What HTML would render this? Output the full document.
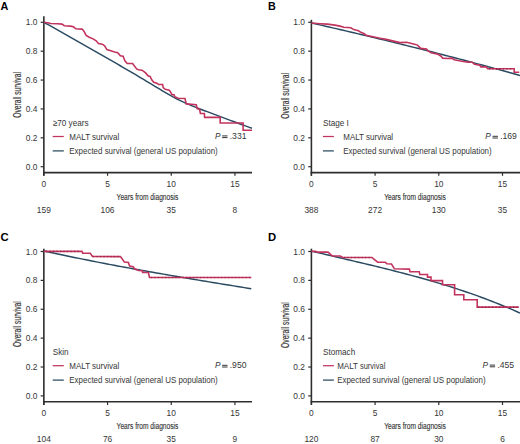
<!DOCTYPE html>
<html><head><meta charset="utf-8"><style>
html,body{margin:0;padding:0;background:#fff;width:520px;height:444px;overflow:hidden}
svg{display:block}
text{font-family:"Liberation Sans", sans-serif}
</style></head><body>
<svg width="520" height="444" viewBox="0 0 520 444">
<text x="0.5" y="10" font-size="10.8" font-weight="bold" fill="#000">A</text>
<line x1="43.85" y1="16.3" x2="43.85" y2="175.8" stroke="#2e2e2e" stroke-width="1.6"/>
<line x1="43.05" y1="172.6" x2="252" y2="172.6" stroke="#2e2e2e" stroke-width="1.6"/>
<line x1="40.65" y1="166.7" x2="43.85" y2="166.7" stroke="#2e2e2e" stroke-width="1.2"/>
<text transform="translate(37.4,169.7) scale(1,1.1)" font-size="8.4" fill="#363636" text-anchor="end">0.0</text>
<line x1="40.65" y1="137.82" x2="43.85" y2="137.82" stroke="#2e2e2e" stroke-width="1.2"/>
<text transform="translate(37.4,140.82) scale(1,1.1)" font-size="8.4" fill="#363636" text-anchor="end">0.2</text>
<line x1="40.65" y1="108.94" x2="43.85" y2="108.94" stroke="#2e2e2e" stroke-width="1.2"/>
<text transform="translate(37.4,111.94) scale(1,1.1)" font-size="8.4" fill="#363636" text-anchor="end">0.4</text>
<line x1="40.65" y1="80.06" x2="43.85" y2="80.06" stroke="#2e2e2e" stroke-width="1.2"/>
<text transform="translate(37.4,83.06) scale(1,1.1)" font-size="8.4" fill="#363636" text-anchor="end">0.6</text>
<line x1="40.65" y1="51.18" x2="43.85" y2="51.18" stroke="#2e2e2e" stroke-width="1.2"/>
<text transform="translate(37.4,54.18) scale(1,1.1)" font-size="8.4" fill="#363636" text-anchor="end">0.8</text>
<line x1="40.65" y1="22.3" x2="43.85" y2="22.3" stroke="#2e2e2e" stroke-width="1.2"/>
<text transform="translate(37.4,25.3) scale(1,1.1)" font-size="8.4" fill="#363636" text-anchor="end">1.0</text>
<line x1="43.85" y1="172.6" x2="43.85" y2="175.8" stroke="#2e2e2e" stroke-width="1.2"/>
<text transform="translate(43.85,186.8) scale(1,1.1)" font-size="8.4" fill="#363636" text-anchor="middle">0</text>
<text transform="translate(43.85,212.7) scale(1,1.1)" font-size="8.4" fill="#363636" text-anchor="middle">159</text>
<line x1="107.55" y1="172.6" x2="107.55" y2="175.8" stroke="#2e2e2e" stroke-width="1.2"/>
<text transform="translate(107.55,186.8) scale(1,1.1)" font-size="8.4" fill="#363636" text-anchor="middle">5</text>
<text transform="translate(107.55,212.7) scale(1,1.1)" font-size="8.4" fill="#363636" text-anchor="middle">106</text>
<line x1="171.25" y1="172.6" x2="171.25" y2="175.8" stroke="#2e2e2e" stroke-width="1.2"/>
<text transform="translate(171.25,186.8) scale(1,1.1)" font-size="8.4" fill="#363636" text-anchor="middle">10</text>
<text transform="translate(171.25,212.7) scale(1,1.1)" font-size="8.4" fill="#363636" text-anchor="middle">35</text>
<line x1="234.95" y1="172.6" x2="234.95" y2="175.8" stroke="#2e2e2e" stroke-width="1.2"/>
<text transform="translate(234.95,186.8) scale(1,1.1)" font-size="8.4" fill="#363636" text-anchor="middle">15</text>
<text transform="translate(234.95,212.7) scale(1,1.1)" font-size="8.4" fill="#363636" text-anchor="middle">8</text>
<text transform="translate(116.6,199.6) scale(0.708,1)" font-size="9.4" fill="#363636" stroke="#363636" stroke-width="0.15">Years from diagnosis</text>
<text transform="translate(21.1,94.9) rotate(-90) scale(0.655,1)" font-size="10.2" fill="#363636" stroke="#363636" stroke-width="0.2" text-anchor="middle">Overall survival</text>
<text transform="translate(52.7,125.5) scale(1,1.12)" font-size="8.2" fill="#363636">&#8805;70 years</text>
<line x1="52.7" y1="136.5" x2="63.8" y2="136.5" stroke="#c2335e" stroke-width="1.25"/>
<line x1="52.7" y1="150.9" x2="63.8" y2="150.9" stroke="#2a4a62" stroke-width="1.25"/>
<text transform="translate(69.3,139.6) scale(1,1.12)" font-size="8" fill="#363636">MALT survival</text>
<text transform="translate(69.3,153.9) scale(1,1.12)" font-size="7.95" fill="#363636">Expected survival (general US population)</text>
<text x="268.05" y="10" font-size="10.8" font-weight="bold" fill="#000">B</text>
<line x1="311.4" y1="19.8" x2="311.4" y2="175.8" stroke="#2e2e2e" stroke-width="1.6"/>
<line x1="310.6" y1="172.6" x2="520.55" y2="172.6" stroke="#2e2e2e" stroke-width="1.6"/>
<line x1="308.2" y1="166.7" x2="311.4" y2="166.7" stroke="#2e2e2e" stroke-width="1.2"/>
<text transform="translate(304.95,169.7) scale(1,1.1)" font-size="8.4" fill="#363636" text-anchor="end">0.0</text>
<line x1="308.2" y1="137.82" x2="311.4" y2="137.82" stroke="#2e2e2e" stroke-width="1.2"/>
<text transform="translate(304.95,140.82) scale(1,1.1)" font-size="8.4" fill="#363636" text-anchor="end">0.2</text>
<line x1="308.2" y1="108.94" x2="311.4" y2="108.94" stroke="#2e2e2e" stroke-width="1.2"/>
<text transform="translate(304.95,111.94) scale(1,1.1)" font-size="8.4" fill="#363636" text-anchor="end">0.4</text>
<line x1="308.2" y1="80.06" x2="311.4" y2="80.06" stroke="#2e2e2e" stroke-width="1.2"/>
<text transform="translate(304.95,83.06) scale(1,1.1)" font-size="8.4" fill="#363636" text-anchor="end">0.6</text>
<line x1="308.2" y1="51.18" x2="311.4" y2="51.18" stroke="#2e2e2e" stroke-width="1.2"/>
<text transform="translate(304.95,54.18) scale(1,1.1)" font-size="8.4" fill="#363636" text-anchor="end">0.8</text>
<line x1="308.2" y1="22.3" x2="311.4" y2="22.3" stroke="#2e2e2e" stroke-width="1.2"/>
<text transform="translate(304.95,25.3) scale(1,1.1)" font-size="8.4" fill="#363636" text-anchor="end">1.0</text>
<line x1="311.4" y1="172.6" x2="311.4" y2="175.8" stroke="#2e2e2e" stroke-width="1.2"/>
<text transform="translate(311.4,186.8) scale(1,1.1)" font-size="8.4" fill="#363636" text-anchor="middle">0</text>
<text transform="translate(311.4,212.7) scale(1,1.1)" font-size="8.4" fill="#363636" text-anchor="middle">388</text>
<line x1="375.1" y1="172.6" x2="375.1" y2="175.8" stroke="#2e2e2e" stroke-width="1.2"/>
<text transform="translate(375.1,186.8) scale(1,1.1)" font-size="8.4" fill="#363636" text-anchor="middle">5</text>
<text transform="translate(375.1,212.7) scale(1,1.1)" font-size="8.4" fill="#363636" text-anchor="middle">272</text>
<line x1="438.8" y1="172.6" x2="438.8" y2="175.8" stroke="#2e2e2e" stroke-width="1.2"/>
<text transform="translate(438.8,186.8) scale(1,1.1)" font-size="8.4" fill="#363636" text-anchor="middle">10</text>
<text transform="translate(438.8,212.7) scale(1,1.1)" font-size="8.4" fill="#363636" text-anchor="middle">130</text>
<line x1="502.5" y1="172.6" x2="502.5" y2="175.8" stroke="#2e2e2e" stroke-width="1.2"/>
<text transform="translate(502.5,186.8) scale(1,1.1)" font-size="8.4" fill="#363636" text-anchor="middle">15</text>
<text transform="translate(502.5,212.7) scale(1,1.1)" font-size="8.4" fill="#363636" text-anchor="middle">35</text>
<text transform="translate(384.15,199.6) scale(0.708,1)" font-size="9.4" fill="#363636" stroke="#363636" stroke-width="0.15">Years from diagnosis</text>
<text transform="translate(288.65,95.9) rotate(-90) scale(0.655,1)" font-size="10.2" fill="#363636" stroke="#363636" stroke-width="0.2" text-anchor="middle">Overall survival</text>
<text transform="translate(322.95,125.5) scale(1,1.12)" font-size="8.2" fill="#363636">Stage I</text>
<line x1="322.95" y1="136.5" x2="333.85" y2="136.5" stroke="#c2335e" stroke-width="1.25"/>
<line x1="322.95" y1="150.9" x2="333.85" y2="150.9" stroke="#2a4a62" stroke-width="1.25"/>
<text transform="translate(343.25,139.6) scale(1,1.12)" font-size="8" fill="#363636">MALT survival</text>
<text transform="translate(343.25,153.9) scale(1,1.12)" font-size="7.95" fill="#363636">Expected survival (general US population)</text>
<text x="0.5" y="240.5" font-size="11.3" font-weight="bold" fill="#000">C</text>
<line x1="43.85" y1="248.7" x2="43.85" y2="405" stroke="#2e2e2e" stroke-width="1.6"/>
<line x1="43.05" y1="401.8" x2="252" y2="401.8" stroke="#2e2e2e" stroke-width="1.6"/>
<line x1="40.65" y1="395.9" x2="43.85" y2="395.9" stroke="#2e2e2e" stroke-width="1.2"/>
<text transform="translate(37.4,398.9) scale(1,1.1)" font-size="8.4" fill="#363636" text-anchor="end">0.0</text>
<line x1="40.65" y1="367.02" x2="43.85" y2="367.02" stroke="#2e2e2e" stroke-width="1.2"/>
<text transform="translate(37.4,370.02) scale(1,1.1)" font-size="8.4" fill="#363636" text-anchor="end">0.2</text>
<line x1="40.65" y1="338.14" x2="43.85" y2="338.14" stroke="#2e2e2e" stroke-width="1.2"/>
<text transform="translate(37.4,341.14) scale(1,1.1)" font-size="8.4" fill="#363636" text-anchor="end">0.4</text>
<line x1="40.65" y1="309.26" x2="43.85" y2="309.26" stroke="#2e2e2e" stroke-width="1.2"/>
<text transform="translate(37.4,312.26) scale(1,1.1)" font-size="8.4" fill="#363636" text-anchor="end">0.6</text>
<line x1="40.65" y1="280.38" x2="43.85" y2="280.38" stroke="#2e2e2e" stroke-width="1.2"/>
<text transform="translate(37.4,283.38) scale(1,1.1)" font-size="8.4" fill="#363636" text-anchor="end">0.8</text>
<line x1="40.65" y1="251.5" x2="43.85" y2="251.5" stroke="#2e2e2e" stroke-width="1.2"/>
<text transform="translate(37.4,254.5) scale(1,1.1)" font-size="8.4" fill="#363636" text-anchor="end">1.0</text>
<line x1="43.85" y1="401.8" x2="43.85" y2="405" stroke="#2e2e2e" stroke-width="1.2"/>
<text transform="translate(43.85,416) scale(1,1.1)" font-size="8.4" fill="#363636" text-anchor="middle">0</text>
<text transform="translate(43.85,441.9) scale(1,1.1)" font-size="8.4" fill="#363636" text-anchor="middle">104</text>
<line x1="107.55" y1="401.8" x2="107.55" y2="405" stroke="#2e2e2e" stroke-width="1.2"/>
<text transform="translate(107.55,416) scale(1,1.1)" font-size="8.4" fill="#363636" text-anchor="middle">5</text>
<text transform="translate(107.55,441.9) scale(1,1.1)" font-size="8.4" fill="#363636" text-anchor="middle">76</text>
<line x1="171.25" y1="401.8" x2="171.25" y2="405" stroke="#2e2e2e" stroke-width="1.2"/>
<text transform="translate(171.25,416) scale(1,1.1)" font-size="8.4" fill="#363636" text-anchor="middle">10</text>
<text transform="translate(171.25,441.9) scale(1,1.1)" font-size="8.4" fill="#363636" text-anchor="middle">35</text>
<line x1="234.95" y1="401.8" x2="234.95" y2="405" stroke="#2e2e2e" stroke-width="1.2"/>
<text transform="translate(234.95,416) scale(1,1.1)" font-size="8.4" fill="#363636" text-anchor="middle">15</text>
<text transform="translate(234.95,441.9) scale(1,1.1)" font-size="8.4" fill="#363636" text-anchor="middle">9</text>
<text transform="translate(116.6,428.8) scale(0.708,1)" font-size="9.4" fill="#363636" stroke="#363636" stroke-width="0.15">Years from diagnosis</text>
<text transform="translate(21.1,324.1) rotate(-90) scale(0.655,1)" font-size="10.2" fill="#363636" stroke="#363636" stroke-width="0.2" text-anchor="middle">Overall survival</text>
<text transform="translate(52.7,354.7) scale(1,1.12)" font-size="8.2" fill="#363636">Skin</text>
<line x1="52.7" y1="365.7" x2="63.8" y2="365.7" stroke="#c2335e" stroke-width="1.25"/>
<line x1="52.7" y1="380.1" x2="63.8" y2="380.1" stroke="#2a4a62" stroke-width="1.25"/>
<text transform="translate(69.3,368.8) scale(1,1.12)" font-size="8" fill="#363636">MALT survival</text>
<text transform="translate(69.3,383.1) scale(1,1.12)" font-size="7.95" fill="#363636">Expected survival (general US population)</text>
<text x="268.05" y="240.5" font-size="11.3" font-weight="bold" fill="#000">D</text>
<line x1="311.4" y1="248.7" x2="311.4" y2="405" stroke="#2e2e2e" stroke-width="1.6"/>
<line x1="310.6" y1="401.8" x2="520.55" y2="401.8" stroke="#2e2e2e" stroke-width="1.6"/>
<line x1="308.2" y1="395.9" x2="311.4" y2="395.9" stroke="#2e2e2e" stroke-width="1.2"/>
<text transform="translate(304.95,398.9) scale(1,1.1)" font-size="8.4" fill="#363636" text-anchor="end">0.0</text>
<line x1="308.2" y1="367.02" x2="311.4" y2="367.02" stroke="#2e2e2e" stroke-width="1.2"/>
<text transform="translate(304.95,370.02) scale(1,1.1)" font-size="8.4" fill="#363636" text-anchor="end">0.2</text>
<line x1="308.2" y1="338.14" x2="311.4" y2="338.14" stroke="#2e2e2e" stroke-width="1.2"/>
<text transform="translate(304.95,341.14) scale(1,1.1)" font-size="8.4" fill="#363636" text-anchor="end">0.4</text>
<line x1="308.2" y1="309.26" x2="311.4" y2="309.26" stroke="#2e2e2e" stroke-width="1.2"/>
<text transform="translate(304.95,312.26) scale(1,1.1)" font-size="8.4" fill="#363636" text-anchor="end">0.6</text>
<line x1="308.2" y1="280.38" x2="311.4" y2="280.38" stroke="#2e2e2e" stroke-width="1.2"/>
<text transform="translate(304.95,283.38) scale(1,1.1)" font-size="8.4" fill="#363636" text-anchor="end">0.8</text>
<line x1="308.2" y1="251.5" x2="311.4" y2="251.5" stroke="#2e2e2e" stroke-width="1.2"/>
<text transform="translate(304.95,254.5) scale(1,1.1)" font-size="8.4" fill="#363636" text-anchor="end">1.0</text>
<line x1="311.4" y1="401.8" x2="311.4" y2="405" stroke="#2e2e2e" stroke-width="1.2"/>
<text transform="translate(311.4,416) scale(1,1.1)" font-size="8.4" fill="#363636" text-anchor="middle">0</text>
<text transform="translate(311.4,441.9) scale(1,1.1)" font-size="8.4" fill="#363636" text-anchor="middle">120</text>
<line x1="375.1" y1="401.8" x2="375.1" y2="405" stroke="#2e2e2e" stroke-width="1.2"/>
<text transform="translate(375.1,416) scale(1,1.1)" font-size="8.4" fill="#363636" text-anchor="middle">5</text>
<text transform="translate(375.1,441.9) scale(1,1.1)" font-size="8.4" fill="#363636" text-anchor="middle">87</text>
<line x1="438.8" y1="401.8" x2="438.8" y2="405" stroke="#2e2e2e" stroke-width="1.2"/>
<text transform="translate(438.8,416) scale(1,1.1)" font-size="8.4" fill="#363636" text-anchor="middle">10</text>
<text transform="translate(438.8,441.9) scale(1,1.1)" font-size="8.4" fill="#363636" text-anchor="middle">30</text>
<line x1="502.5" y1="401.8" x2="502.5" y2="405" stroke="#2e2e2e" stroke-width="1.2"/>
<text transform="translate(502.5,416) scale(1,1.1)" font-size="8.4" fill="#363636" text-anchor="middle">15</text>
<text transform="translate(502.5,441.9) scale(1,1.1)" font-size="8.4" fill="#363636" text-anchor="middle">6</text>
<text transform="translate(384.15,428.8) scale(0.708,1)" font-size="9.4" fill="#363636" stroke="#363636" stroke-width="0.15">Years from diagnosis</text>
<text transform="translate(288.65,325.1) rotate(-90) scale(0.655,1)" font-size="10.2" fill="#363636" stroke="#363636" stroke-width="0.2" text-anchor="middle">Overall survival</text>
<text transform="translate(322.95,354.7) scale(1,1.12)" font-size="8.2" fill="#363636">Stomach</text>
<line x1="322.95" y1="365.7" x2="333.85" y2="365.7" stroke="#c2335e" stroke-width="1.25"/>
<line x1="322.95" y1="380.1" x2="333.85" y2="380.1" stroke="#2a4a62" stroke-width="1.25"/>
<text transform="translate(337.15,368.8) scale(1,1.12)" font-size="8" fill="#363636">MALT <tspan font-size="7.5">survival</tspan></text>
<text transform="translate(337.15,383.1) scale(1,1.12)" font-size="7.95" fill="#363636">Expected survival (general US population)</text>
<text transform="translate(214.9,139) scale(1,1.12)" font-size="8.3" fill="#363636" font-style="italic">P</text>
<rect x="222.1" y="135.4" width="5.4" height="1.0" fill="#363636"/>
<rect x="222.1" y="137.1" width="5.4" height="1.0" fill="#363636"/>
<text transform="translate(229.8,139) scale(1,1.12)" font-size="8.3" fill="#363636">.</text>
<text transform="translate(232.1,139) scale(1,1.12)" font-size="8.6" fill="#363636">331</text>
<text transform="translate(485.3,139.4) scale(1,1.12)" font-size="8.3" fill="#363636" font-style="italic">P</text>
<rect x="492.5" y="135.8" width="5.4" height="1.0" fill="#363636"/>
<rect x="492.5" y="137.5" width="5.4" height="1.0" fill="#363636"/>
<text transform="translate(500.2,139.4) scale(1,1.12)" font-size="8.3" fill="#363636">.</text>
<text transform="translate(502.5,139.4) scale(1,1.12)" font-size="8.6" fill="#363636">169</text>
<text transform="translate(214.9,368.4) scale(1,1.12)" font-size="8.3" fill="#363636" font-style="italic">P</text>
<rect x="222.1" y="364.8" width="5.4" height="1.0" fill="#363636"/>
<rect x="222.1" y="366.5" width="5.4" height="1.0" fill="#363636"/>
<text transform="translate(229.8,368.4) scale(1,1.12)" font-size="8.3" fill="#363636">.</text>
<text transform="translate(232.1,368.4) scale(1,1.12)" font-size="8.6" fill="#363636">950</text>
<text transform="translate(482.5,368.2) scale(1,1.12)" font-size="8.3" fill="#363636" font-style="italic">P</text>
<rect x="489.7" y="364.6" width="5.4" height="1.0" fill="#363636"/>
<rect x="489.7" y="366.3" width="5.4" height="1.0" fill="#363636"/>
<text transform="translate(497.4,368.2) scale(1,1.12)" font-size="8.3" fill="#363636">.</text>
<text transform="translate(499.7,368.2) scale(1,1.12)" font-size="8.6" fill="#363636">455</text>
<polyline points="43.85,22.3 46.48,23.76 49.12,25.22 51.75,26.68 54.39,28.15 57.02,29.62 59.66,31.1 62.29,32.57 64.93,34.06 67.56,35.54 70.2,37.03 72.83,38.53 75.47,40.03 78.1,41.53 80.74,43.04 83.37,44.56 86.01,46.07 88.64,47.59 91.28,49.11 93.91,50.63 96.55,52.15 99.18,53.67 101.82,55.18 104.45,56.69 107.09,58.2 109.72,59.71 112.36,61.22 114.99,62.73 117.62,64.24 120.26,65.75 122.89,67.27 125.53,68.79 128.16,70.33 130.8,71.87 133.43,73.42 136.07,74.99 138.7,76.56 141.34,78.14 143.97,79.72 146.61,81.3 149.24,82.88 151.88,84.45 154.51,86.01 157.15,87.58 159.78,89.17 162.42,90.77 165.05,92.37 167.69,93.94 170.32,95.47 172.96,96.95 175.59,98.34 178.23,99.66 180.86,100.92 183.49,102.14 186.13,103.31 188.76,104.45 191.4,105.55 194.03,106.63 196.67,107.68 199.3,108.7 201.94,109.71 204.57,110.7 207.21,111.68 209.84,112.67 212.48,113.65 215.11,114.64 217.75,115.64 220.38,116.63 223.02,117.62 225.65,118.61 228.29,119.59 230.92,120.57 233.56,121.55 236.19,122.53 238.83,123.5 241.46,124.46 244.1,125.43 246.73,126.39 249.37,127.35 252,128.3" fill="none" stroke="#2a4a62" stroke-width="1.45" stroke-linejoin="miter"/>
<polyline points="311.4,22.97 314.94,23.78 318.47,24.59 322.01,25.4 325.54,26.21 329.08,27.02 332.61,27.84 336.15,28.66 339.68,29.48 343.22,30.31 346.76,31.13 350.29,31.96 353.83,32.79 357.36,33.63 360.9,34.46 364.43,35.3 367.97,36.15 371.51,36.99 375.04,37.84 378.58,38.69 382.11,39.54 385.65,40.4 389.18,41.26 392.72,42.12 396.25,42.99 399.79,43.86 403.33,44.73 406.86,45.61 410.4,46.48 413.93,47.37 417.47,48.25 421,49.14 424.54,50.03 428.07,50.92 431.61,51.82 435.15,52.72 438.68,53.63 442.22,54.54 445.75,55.45 449.29,56.37 452.82,57.29 456.36,58.21 459.89,59.14 463.43,60.07 466.97,61 470.5,61.94 474.04,62.88 477.57,63.83 481.11,64.78 484.64,65.73 488.18,66.69 491.72,67.65 495.25,68.61 498.79,69.58 502.32,70.56 505.86,71.54 509.39,72.52 512.93,73.51 516.46,74.5 520,75.49" fill="none" stroke="#2a4a62" stroke-width="1.45" stroke-linejoin="miter"/>
<polyline points="43.85,250.95 47.37,251.73 50.88,252.5 54.4,253.26 57.91,254.01 61.43,254.76 64.95,255.5 68.46,256.24 71.98,256.97 75.49,257.69 79.01,258.41 82.53,259.12 86.04,259.83 89.56,260.53 93.08,261.22 96.59,261.91 100.11,262.6 103.62,263.27 107.14,263.95 110.66,264.62 114.17,265.28 117.69,265.94 121.2,266.6 124.72,267.25 128.24,267.89 131.75,268.53 135.27,269.17 138.78,269.81 142.3,270.44 145.82,271.06 149.33,271.69 152.85,272.31 156.37,272.92 159.88,273.54 163.4,274.15 166.91,274.75 170.43,275.36 173.95,275.96 177.46,276.56 180.98,277.16 184.49,277.75 188.01,278.34 191.53,278.93 195.04,279.52 198.56,280.11 202.07,280.69 205.59,281.28 209.11,281.86 212.62,282.44 216.14,283.02 219.66,283.6 223.17,284.17 226.69,284.75 230.2,285.33 233.72,285.9 237.24,286.48 240.75,287.05 244.27,287.62 247.78,288.2 251.3,288.77" fill="none" stroke="#2a4a62" stroke-width="1.45" stroke-linejoin="miter"/>
<polyline points="311.5,251.09 315.03,251.93 318.57,252.77 322.1,253.61 325.64,254.45 329.17,255.28 332.7,256.11 336.24,256.94 339.77,257.77 343.31,258.6 346.84,259.43 350.37,260.26 353.91,261.1 357.44,261.93 360.97,262.77 364.51,263.61 368.04,264.46 371.58,265.31 375.11,266.16 378.64,267.02 382.18,267.89 385.71,268.77 389.25,269.65 392.78,270.54 396.31,271.44 399.85,272.35 403.38,273.27 406.92,274.2 410.45,275.14 413.98,276.09 417.52,277.06 421.05,278.04 424.58,279.03 428.12,280.03 431.65,281.05 435.19,282.09 438.72,283.14 442.25,284.21 445.79,285.29 449.32,286.4 452.86,287.52 456.39,288.66 459.92,289.82 463.46,291 466.99,292.2 470.53,293.42 474.06,294.66 477.59,295.93 481.13,297.21 484.66,298.53 488.19,299.86 491.73,301.22 495.26,302.61 498.8,304.02 502.33,305.46 505.86,306.92 509.4,308.42 512.93,309.94 516.47,311.49 520,313.07" fill="none" stroke="#2a4a62" stroke-width="1.45" stroke-linejoin="miter"/>
<polyline points="43.85,22.3 48.9,23 50.5,23.5 57.4,23.8 62,24.15 64.3,25.7 70.5,26.1 73.5,26.8 75.8,28.8 82,29.15 83.1,30 84.6,32.3 86.15,35.4 89.2,37.3 93.1,38.85 96.15,40.8 98.5,43.5 102.3,44.2 104.6,45.8 106.9,49.6 110.8,50.8 114.6,51.9 117.7,52.7 120.4,55.8 123.1,56.3 124.9,60.8 127.2,63.5 132.6,63.5 136.6,68.9 138.4,69.8 142,70.2 145.6,72.9 148.3,76.1 150.1,76.5 151.9,80.1 153.8,82.2 156.8,83.2 158.5,84.5 162.6,84.5 163.2,87.6 165.3,89.3 169.3,90.3 170.7,92.3 172,94.7 174.1,94.7 174.7,96.7 178.1,98.3 185,98.5 186.2,103.9 196.2,104.7 197.3,108.9 199.6,109.3 200.4,113.5 204.4,113.5 204.6,117.4 220.2,117.4 220.2,123 243.1,123 243.1,130.3 252,130.3" fill="none" stroke="#c2335e" stroke-width="1.6" stroke-linejoin="miter"/>
<polyline points="311.4,23.05 320.1,23.7 327.5,24.1 334.9,25.1 340,26.15 343.8,27.3 350.8,27.7 353.8,29.6 358.5,30.8 360.8,32.3 363.8,33.5 366.2,35.2 380,38.2 386.2,39.4 400,42.6 406.5,42.3 414.6,44.2 417.5,45.1 420.8,48.4 426.5,48.9 428,50.85 431.1,52.8 438,54.3 441.1,56.2 442.6,58.15 447.2,58.5 451.8,58.15 454.2,59.7 458,60.5 463.4,61.5 468,62.1 472.4,62.2 474.5,64.3 479.8,65.3 480.9,66.9 486.2,66.9 487.75,68.8 514.2,68.8 514.2,72.2 519.2,72.2" fill="none" stroke="#c2335e" stroke-width="1.6" stroke-linejoin="miter"/>
<polyline points="43.85,251.4 82,251.4 82.7,253.2 90.2,253.2 92.5,256.5 120.4,256.6 122.1,258.7 124.4,262.1 128.4,262.5 129.6,266.1 133.1,266.7 134.8,269 138.8,270.5 142.3,270.8 142.6,272.5 148.4,272.5 149.5,277.5 251.3,277.5" fill="none" stroke="#c2335e" stroke-width="1.6" stroke-linejoin="miter"/>
<polyline points="311.5,251.4 315.7,251.4 317.2,252.15 328,252.15 331.1,254.85 332.6,256 340.3,256 342.6,257.5 371.9,257.5 374.2,259.4 377.7,262.2 385.2,262.2 386.9,263.7 391.5,264 394.4,268.8 409.4,269.1 410,271.7 419.2,271.7 419.8,274.4 427.5,274.5 427.5,277.1 431,277.1 431,280.6 442.5,280.6 442.5,284.8 454.6,284.8 454.6,294.8 463.8,294.8 463.8,299.8 477.2,299.8 477.2,307.1 518.8,307.1" fill="none" stroke="#c2335e" stroke-width="1.6" stroke-linejoin="miter"/>
<line x1="46" y1="251.4" x2="81" y2="251.4" stroke="#7d1836" stroke-width="1.7" stroke-dasharray="1.1 2.4" opacity="0.55"/>
<line x1="93" y1="256.5" x2="120" y2="256.5" stroke="#7d1836" stroke-width="1.7" stroke-dasharray="1.1 2.4" opacity="0.55"/>
<line x1="151" y1="277.5" x2="200" y2="277.5" stroke="#7d1836" stroke-width="1.7" stroke-dasharray="1.1 2.4" opacity="0.55"/>
<line x1="200" y1="277.5" x2="250" y2="277.5" stroke="#7d1836" stroke-width="1.7" stroke-dasharray="1.1 2.4" opacity="0.45"/>
<line x1="344" y1="257.5" x2="371" y2="257.5" stroke="#7d1836" stroke-width="1.7" stroke-dasharray="1.1 2.4" opacity="0.55"/>
<line x1="478" y1="307.1" x2="518" y2="307.1" stroke="#7d1836" stroke-width="1.7" stroke-dasharray="1.1 2.4" opacity="0.6"/>
<line x1="489" y1="68.8" x2="513" y2="68.8" stroke="#7d1836" stroke-width="1.7" stroke-dasharray="1.1 2.4" opacity="0.6"/>
</svg>
</body></html>
